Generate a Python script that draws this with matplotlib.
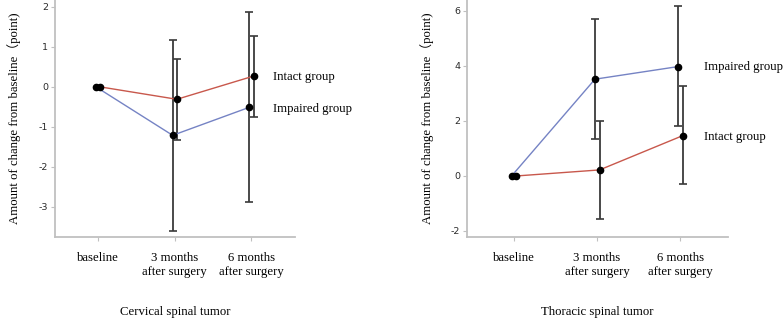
import matplotlib
matplotlib.use("Agg")
import matplotlib.pyplot as plt
import numpy as np

categories = ["baseline", "3 months\nafter surgery", "6 months\nafter surgery"]

# Cervical spinal tumor
cerv_intact = [0.0, -0.31, 0.27]
cerv_intact_hi = [0.0, 0.70, 1.28]
cerv_intact_lo = [0.0, -1.33, -0.76]
cerv_impaired = [0.0, -1.21, -0.51]
cerv_impaired_hi = [0.0, 1.17, 1.88]
cerv_impaired_lo = [0.0, -3.60, -2.88]

# Thoracic spinal tumor
thor_intact = [0.0, 0.22, 1.47]
thor_intact_hi = [0.0, 1.99, 3.26]
thor_intact_lo = [0.0, -1.58, -0.30]
thor_impaired = [0.0, 3.52, 3.98]
thor_impaired_hi = [0.0, 5.70, 6.17]
thor_impaired_lo = [0.0, 1.35, 1.80]

serif = ["Liberation Serif", "Noto Sans CJK JP", "DejaVu Sans"]
RED = "#c8584c"
BLUE = "#7583c4"
ERR = "#3a3a3a"
SPINE = "#c0c0c0"
FS = 9.2

fig = plt.figure(figsize=(7.83, 3.19), dpi=100)

def panel(ax, intact, ihi, ilo, imp, phi, plo, ylim, yticks, title, lab_int_y, lab_imp_y):
    x = np.arange(len(categories))
    off_int, off_imp = 0.03, -0.025
    xi = x + off_int
    xp = x + off_imp
    for xs, v, hi, lo in ((xi, intact, ihi, ilo), (xp, imp, phi, plo)):
        v = np.array(v); hi = np.array(hi); lo = np.array(lo)
        ax.errorbar(xs[1:], v[1:], yerr=[v[1:] - lo[1:], hi[1:] - v[1:]], fmt="none",
                    ecolor=ERR, elinewidth=1.3, capsize=2.6, capthick=1.2, zorder=2)
    ax.plot(xp, imp, color=BLUE, lw=1.0, zorder=3)
    ax.plot(xi, intact, color=RED, lw=1.0, zorder=3)
    ax.plot(xp, imp, "o", color="black", ms=4.5, zorder=4)
    ax.plot(xi, intact, "o", color="black", ms=4.5, zorder=4)
    ax.set_xlim(-0.56, 2.57)
    ax.set_ylim(*ylim)
    ax.set_yticks(yticks)
    ax.set_yticklabels([str(t) for t in yticks], fontsize=6.8, family="DejaVu Sans", color="#2a2a2a")
    ax.set_xticks(x)
    ax.set_xticklabels(categories, family=serif, fontsize=FS, linespacing=1.2)
    for s in ("top", "right"):
        ax.spines[s].set_visible(False)
    for s in ("left", "bottom"):
        ax.spines[s].set_color(SPINE)
        ax.spines[s].set_linewidth(1.3)
    ax.tick_params(axis="both", color=SPINE, length=3, width=0.8)
    ax.tick_params(axis="x", pad=8)
    ax.tick_params(axis="y", pad=2)
    ax.set_ylabel("Amount of change from baseline（point)", family=serif, fontsize=FS)
    ax.set_xlabel(title, family=serif, fontsize=FS, labelpad=20)
    ax.text(2.28, lab_int_y, "Intact group", family=serif, fontsize=FS, va="center", clip_on=False)
    ax.text(2.28, lab_imp_y, "Impaired group", family=serif, fontsize=FS, va="center", clip_on=False)

ax1 = fig.add_axes([0.0702, 0.257, 0.3065, 0.743])
panel(ax1, cerv_intact, cerv_intact_hi, cerv_intact_lo, cerv_impaired, cerv_impaired_hi,
      cerv_impaired_lo, (-3.75, 2.17), [-3, -2, -1, 0, 1, 2], "Cervical spinal tumor", 0.25, -0.55)
ax1.yaxis.set_label_coords(-0.14, 0.5)

ax2 = fig.add_axes([0.5964, 0.257, 0.3333, 0.743])
panel(ax2, thor_intact, thor_intact_hi, thor_intact_lo, thor_impaired, thor_impaired_hi,
      thor_impaired_lo, (-2.22, 6.4), [-2, 0, 2, 4, 6], "Thoracic spinal tumor", 1.42, 3.98)
ax2.yaxis.set_label_coords(-0.125, 0.5)

fig.savefig("out.png", dpi=100)
